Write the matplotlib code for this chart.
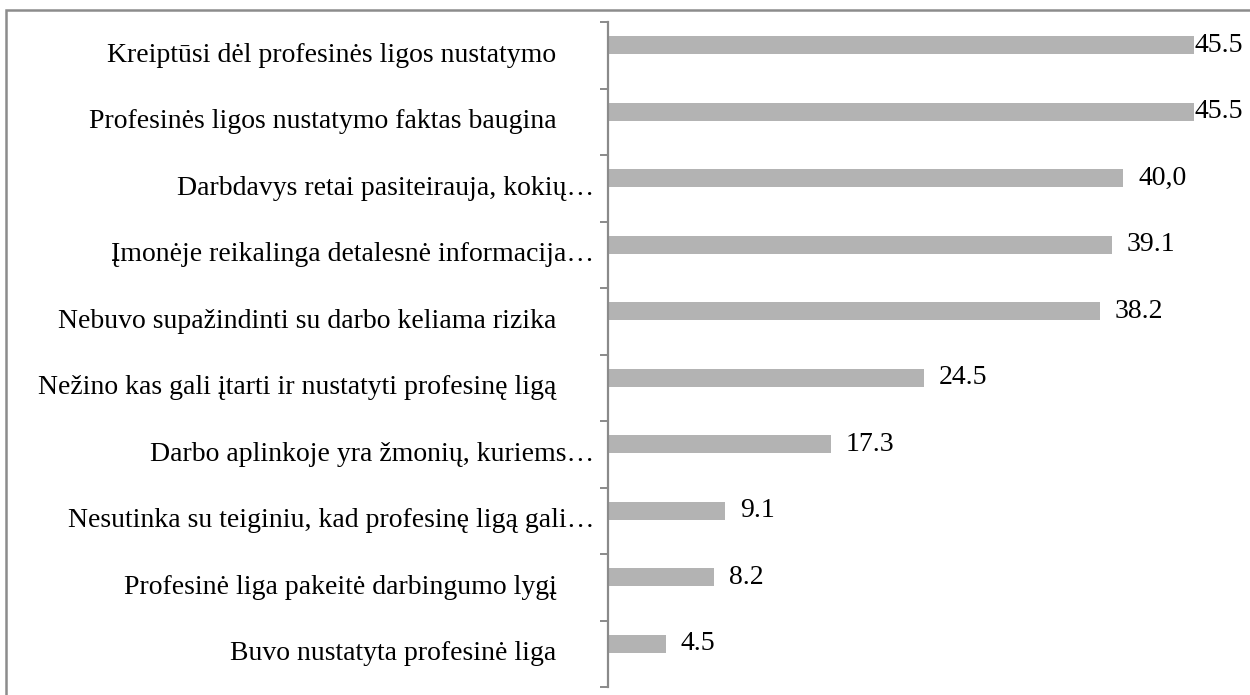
import matplotlib.pyplot as plt
import matplotlib.patches as mpatches
import numpy as np

categories = [
    "Kreiptūsi dėl profesinės ligos nustatymo",
    "Profesinės ligos nustatymo faktas baugina",
    "Darbdavys retai pasiteirauja, kokių…",
    "Įmonėje reikalinga detalesnė informacija…",
    "Nebuvo supažindinti su darbo keliama rizika",
    "Nežino kas gali įtarti ir nustatyti profesinę ligą",
    "Darbo aplinkoje yra žmonių, kuriems…",
    "Nesutinka su teiginiu, kad profesinę ligą gali…",
    "Profesinė liga pakeitė darbingumo lygį",
    "Buvo nustatyta profesinė liga",
]
values = [45.5, 45.5, 40.0, 39.1, 38.2, 24.5, 17.3, 9.1, 8.2, 4.5]
value_labels = ["45.5", "45.5", "40,0", "39.1", "38.2", "24.5", "17.3", "9.1", "8.2", "4.5"]

plt.rcParams['font.family'] = ['Liberation Serif', 'DejaVu Serif']

fig = plt.figure(figsize=(12.5, 6.95), dpi=100)
ax = fig.add_axes([608 / 1250, 1 - 687 / 695, (1252 - 608) / 1250, (687 - 22) / 695])

pos = np.arange(len(categories))
ax.barh(pos - 0.15, values, height=0.27, color='#b3b3b3')

ax.set_xlim(0, 50)
ax.set_ylim(len(categories) - 0.5, -0.5)

for sp in ['top', 'right', 'bottom']:
    ax.spines[sp].set_visible(False)
ax.spines['left'].set_color('#8a8a8a')
ax.spines['left'].set_linewidth(1.6)
ax.set_xticks([])

ax.set_yticks(pos)
ax.set_yticklabels([])
ax.tick_params(axis='y', which='major', length=0)
ax.set_yticks(np.arange(len(categories) + 1) - 0.5, minor=True)
ax.tick_params(axis='y', which='minor', length=6, width=1.4, color='#8a8a8a')

for i, lab in enumerate(categories):
    off = -10 if lab.endswith('…') else -37
    ax.annotate(lab, xy=(0, i), xycoords=('axes fraction', 'data'),
                xytext=(off, 0), textcoords='offset points',
                ha='right', va='center', fontsize=20, color='#000000',
                annotation_clip=False)

for i, (v, t) in enumerate(zip(values, value_labels)):
    x = min(v + 1.16, 45.55)
    ax.text(x, i - 0.15, t, ha='left', va='center', fontsize=20, color='#000000')

frame = mpatches.Rectangle((6 / 1250, -0.1), 1.2, 1 - 10 / 695 + 0.1,
                           transform=fig.transFigure, fill=False,
                           edgecolor='#8c8c8c', linewidth=1.8, clip_on=False)
fig.patches.append(frame)

fig.savefig('out.png', dpi=100)
